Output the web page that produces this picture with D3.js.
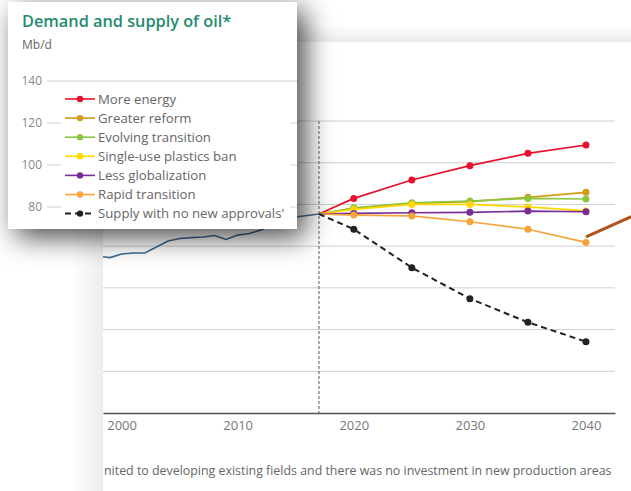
<!DOCTYPE html>
<html><head><meta charset="utf-8">
<script src="https://cdn.jsdelivr.net/npm/d3@7"></script>
<style>
body{margin:0;background:#fff;}
svg{display:block;font-family:"Open Sans",sans-serif;}
</style></head>
<body><svg id="c" width="631" height="491"></svg>
<script>
// ---------- data ----------
const histYears  = [1998,1999,2000,2001,2002,2003,2004,2005,2006,2007,2008,2009,2010,2011,2012,2013,2014,2015,2016,2017];
const histValues = [75.2,74.5,76.2,76.7,76.7,79.6,82.5,83.7,84.1,84.4,85.1,83.2,85.3,86.1,87.7,90.1,92.3,94.0,94.7,95.4];

const scenarioYears = [2017,2020,2025,2030,2035,2040];
const moreEnergy    = [95.4,102.9,111.7,118.6,124.5,128.5];
const greaterReform = [95.4,98.1,100.5,101.3,103.4,105.8];
const evolving      = [95.4,98.4,100.8,101.6,102.9,102.6];
const plasticsBan   = [95.4,97.6,100.0,100.0,98.8,96.9];
const lessGlobal    = [95.4,95.7,96.0,96.2,96.8,96.5];
const rapid         = [95.4,94.9,94.5,91.7,88.1,81.8];
const supplyNoNew   = [95.4,88.1,69.7,54.8,43.5,34.2];

const seriesNames  = ["More energy","Greater reform","Evolving transition","Single-use plastics ban","Less globalization","Rapid transition","Supply with no new approvals'"];
const seriesColors = ["#e8112d","#d39a12","#8cc63e","#ffd800","#7a2c96","#f5a43c","#222222"];
const seriesValues = [moreEnergy,greaterReform,evolving,plasticsBan,lessGlobal,rapid,supplyNoNew];

const xTicks = [2000,2010,2020,2030,2040];
const yTicks = [20,40,60,80,100,120,140];
const insetTicks = [80,100,120,140];
const dividerYear = 2017;
const arrowFrom = [2040,84.5];
const arrowTo   = [2043.9,94.1];

const titleText = "Demand and supply of oil*";
const unitText  = "Mb/d";
const footText  = "nited to developing existing fields and there was no investment in new production areas";

// ---------- drawing ----------
const svg = d3.select("#c");
const W = 631, H = 491;
const defs = svg.append("defs");

const gTop = defs.append("linearGradient").attr("id","gTop").attr("x1",0).attr("y1",0).attr("x2",0).attr("y2",1);
gTop.append("stop").attr("offset","0%").attr("stop-color","#ffffff");
gTop.append("stop").attr("offset","100%").attr("stop-color","#ebebeb");
const gLeft = defs.append("linearGradient").attr("id","gLeft").attr("x1",0).attr("y1",0).attr("x2",1).attr("y2",0);
gLeft.append("stop").attr("offset","0%").attr("stop-color","#ffffff");
gLeft.append("stop").attr("offset","100%").attr("stop-color","#ededed");

const f = defs.append("filter").attr("id","shadow").attr("x","-30%").attr("y","-30%").attr("width","170%").attr("height","170%");
f.append("feDropShadow").attr("dx",8).attr("dy",8).attr("stdDeviation",14).attr("flood-color","#000").attr("flood-opacity",0.72);

const panelX = 103, panelY = 42;
svg.append("rect").attr("x",panelX).attr("y",24).attr("width",W-panelX).attr("height",panelY-24).attr("fill","url(#gTop)");
svg.append("rect").attr("x",70).attr("y",panelY).attr("width",panelX-70).attr("height",H-panelY).attr("fill","url(#gLeft)");
svg.append("rect").attr("x",panelX).attr("y",panelY).attr("width",W-panelX).attr("height",H-panelY).attr("fill","#fff");

const x = d3.scaleLinear().domain([1998.4,2042.5]).range([103,615]);
const y = d3.scaleLinear().domain([0,140]).range([413,121]);

defs.append("clipPath").attr("id","plotClip").append("rect")
  .attr("x",panelX).attr("y",panelY).attr("width",W-panelX).attr("height",H-panelY);

const main = svg.append("g").attr("clip-path","url(#plotClip)");

main.append("g").selectAll("line").data(yTicks).join("line")
  .attr("x1",x.range()[0]).attr("x2",x.range()[1])
  .attr("y1",d=>y(d)).attr("y2",d=>y(d))
  .attr("stroke","#cfcfcf").attr("stroke-width",1);

const xAxis = d3.axisBottom(x).tickValues(xTicks).tickFormat(d3.format("d")).tickSize(0).tickPadding(8);
const ax = main.append("g").attr("transform",`translate(0,${y(0)})`).call(xAxis);
ax.select(".domain").attr("stroke","#555").attr("stroke-width",1.5);
ax.selectAll("text").attr("fill","#777").attr("font-size",13).attr("font-family","Open Sans");

main.append("line").attr("x1",x(dividerYear)).attr("x2",x(dividerYear))
  .attr("y1",y(140)).attr("y2",y(0))
  .attr("stroke","#555").attr("stroke-width",1).attr("stroke-dasharray","3,2");

const line = d3.line().x(d=>x(d[0])).y(d=>y(d[1]));
main.append("path").datum(histYears.map((yr,i)=>[yr,histValues[i]]))
  .attr("d",line).attr("fill","none").attr("stroke","#3f6b91").attr("stroke-width",1.6);

seriesValues.forEach((vals,i)=>{
  const pts = scenarioYears.map((yr,j)=>[yr,vals[j]]);
  const isSupply = i===6;
  main.append("path").datum(pts).attr("d",line).attr("fill","none")
    .attr("stroke",seriesColors[i]).attr("stroke-width",isSupply?2:1.7)
    .attr("stroke-dasharray",isSupply?"6,4":null);
  main.append("g").selectAll("circle").data(pts.slice(1)).join("circle")
    .attr("cx",d=>x(d[0])).attr("cy",d=>y(d[1])).attr("r",3.5).attr("fill",seriesColors[i]);
});

main.append("line").attr("x1",x(arrowFrom[0])).attr("y1",y(arrowFrom[1]))
  .attr("x2",x(arrowTo[0])).attr("y2",y(arrowTo[1]))
  .attr("stroke","#b0561c").attr("stroke-width",3);

main.append("text").attr("x",panelX+1).attr("y",475).attr("font-size",12.4).attr("fill","#666").text(footText);

// ---------- inset ----------
const ins = svg.append("g");
ins.append("rect").attr("x",8).attr("y",2).attr("width",289).attr("height",227).attr("fill","#fff").attr("filter","url(#shadow)");
ins.append("text").attr("x",22).attr("y",27).attr("font-size",16.3).attr("font-weight",600).attr("fill","#1f8b70").text(titleText);
ins.append("text").attr("x",22).attr("y",49).attr("font-size",12).attr("fill","#666").text(unitText);

const yi = d3.scaleLinear().domain([80,140]).range([207,81]);
ins.append("g").selectAll("line").data(insetTicks).join("line")
  .attr("x1",47).attr("x2",297).attr("y1",d=>yi(d)).attr("y2",d=>yi(d))
  .attr("stroke","#d0d0d0");
ins.append("g").selectAll("text").data(insetTicks).join("text")
  .attr("x",42).attr("y",d=>yi(d)).attr("dy","0.35em").attr("text-anchor","end")
  .attr("font-size",12).attr("fill","#888").text(d=>d);

ins.append("rect").attr("x",61).attr("y",89).attr("width",229).attr("height",134).attr("fill","#fff");
const leg = ins.append("g").selectAll("g").data(seriesNames).join("g")
  .attr("transform",(d,i)=>`translate(0,${99+i*19.1})`);
leg.append("line").attr("x1",65).attr("x2",95).attr("y1",0).attr("y2",0)
  .attr("stroke",(d,i)=>seriesColors[i]).attr("stroke-width",(d,i)=>i===6?2:1.6)
  .attr("stroke-dasharray",(d,i)=>i===6?"6,4":null);
leg.append("circle").attr("cx",80).attr("cy",0).attr("r",3.2).attr("fill",(d,i)=>seriesColors[i]);
leg.append("text").attr("x",98).attr("y",0).attr("dy","0.35em").attr("font-size",13.2).attr("fill","#666").text(d=>d);
</script>
</body></html>
